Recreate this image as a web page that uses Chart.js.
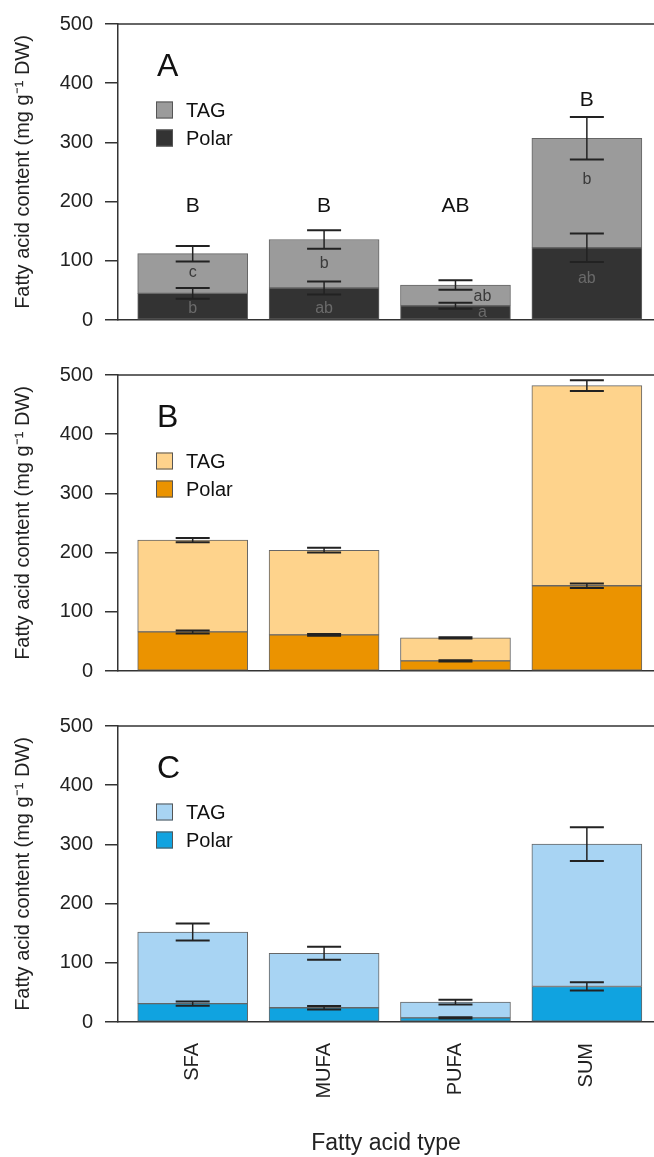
<!DOCTYPE html>
<html>
<head>
<meta charset="utf-8">
<script src="https://cdn.jsdelivr.net/npm/chart.js@4.4.0/dist/chart.umd.min.js"></script>
<style>
  html, body { margin: 0; padding: 0; background: #fff; overflow: hidden; }
  canvas { display: block; }
</style>
</head>
<body>
<canvas id="panelA" width="654" height="351"></canvas>
<canvas id="panelB" width="654" height="351"></canvas>
<canvas id="panelC" width="654" height="455"></canvas>
<script>
const categories = ['SFA', 'MUFA', 'PUFA', 'SUM'];
const yTicks = [0, 100, 200, 300, 400, 500];

// panel A (grey)
const polarA = [45, 54, 24, 122];
const tagA = [67, 82, 35, 185];
const polarErrA = [9, 11, 5, 24];
const tagErrA = [13, 15.5, 8, 36];
const groupLettersA = ['B', 'B', 'AB', 'B'];
const tagLettersA = ['c', 'b', 'ab', 'b'];
const polarLettersA = ['b', 'ab', 'a', 'ab'];

// panel B (orange)
const polarB = [66, 61, 17, 144];
const tagB = [155, 143, 39, 338];
const polarErrB = [2.5, 1.5, 1, 4];
const tagErrB = [3.5, 4, 1, 9];

// panel C (blue)
const polarC = [31, 24, 7, 60];
const tagC = [121, 92, 26.5, 240.5];
const polarErrC = [3.5, 3, 1, 7];
const tagErrC = [14.5, 11, 4, 28.5];

// where the letters of panel A sit, in data units
const groupLetterPos = [193, 193, 193, 372];
const tagLetterPos = [80, 95, 40, 238];
const polarLetterPos = [20, 20, 12, 70];
const letterShift = [0, 0, 27, 0];

const FONT = '"Liberation Sans", Arial, sans-serif';
Chart.defaults.font.family = FONT;
Chart.defaults.color = '#222';

// frame top line, error bars, letters and the small legend inside the plot
function extras(p) {
    return {
        id: 'extras' + p.letter,
        afterDatasetsDraw(chart) {
            const { ctx, chartArea: area, scales: { y } } = chart;
            ctx.save();

            ctx.strokeStyle = '#333';
            ctx.lineWidth = 1.5;
            ctx.beginPath();
            ctx.moveTo(area.left, area.top);
            ctx.lineTo(area.right, area.top);
            ctx.stroke();

            const errs = [p.polarErr, p.tagErr];
            ctx.strokeStyle = '#222';
            [0, 1].forEach(d => {
                chart.getDatasetMeta(d).data.forEach((bar, i) => {
                    const mean = d === 0 ? p.polar[i] : p.polar[i] + p.tag[i];
                    const hi = y.getPixelForValue(mean + errs[d][i]);
                    const lo = y.getPixelForValue(mean - errs[d][i]);
                    ctx.lineWidth = 1.5;
                    ctx.beginPath();
                    ctx.moveTo(bar.x, hi);
                    ctx.lineTo(bar.x, lo);
                    ctx.stroke();
                    ctx.lineWidth = 2;
                    ctx.beginPath();
                    ctx.moveTo(bar.x - 17, hi); ctx.lineTo(bar.x + 17, hi);
                    ctx.moveTo(bar.x - 17, lo); ctx.lineTo(bar.x + 17, lo);
                    ctx.stroke();
                });
            });

            ctx.textBaseline = 'middle';
            if (p.groupLetters) {
                const bars = chart.getDatasetMeta(0).data;
                ctx.textAlign = 'center';
                bars.forEach((bar, i) => {
                    ctx.fillStyle = '#111';
                    ctx.font = '21px ' + FONT;
                    ctx.fillText(p.groupLetters[i], bar.x, y.getPixelForValue(groupLetterPos[i]));
                    ctx.font = '16px ' + FONT;
                    ctx.fillStyle = '#3a3a3a';
                    ctx.fillText(p.tagLetters[i], bar.x + letterShift[i], y.getPixelForValue(tagLetterPos[i]));
                    ctx.fillStyle = '#6a6a6a';
                    ctx.fillText(p.polarLetters[i], bar.x + letterShift[i], y.getPixelForValue(polarLetterPos[i]));
                });
            }

            ctx.textAlign = 'left';
            ctx.fillStyle = '#111';
            ctx.font = '32px ' + FONT;
            ctx.fillText(p.letter, area.left + 39, area.top + 43);

            const ds = chart.data.datasets;
            [[ds[1], 86], [ds[0], 114]].forEach(([set, dy]) => {
                ctx.fillStyle = set.backgroundColor;
                ctx.fillRect(area.left + 38, area.top + dy - 8.5, 17, 17);
                ctx.strokeStyle = '#555';
                ctx.lineWidth = 1;
                ctx.strokeRect(area.left + 38.5, area.top + dy - 8, 16, 16);
                ctx.fillStyle = '#111';
                ctx.font = '20px ' + FONT;
                ctx.fillText(set.label, area.left + 68, area.top + dy + 1);
            });
            ctx.restore();
        }
    };
}

function makePanel(id, p) {
    const ctx = document.getElementById(id).getContext('2d');
    const showX = !!p.showX;
    const barStyle = { barThickness: 110, borderColor: '#666', borderWidth: 1, borderSkipped: false };
    return new Chart(ctx, {
        type: 'bar',
        data: {
            datasets: [
                Object.assign({ label: 'Polar', data: p.polar.map((v, i) => ({ x: i, y: v })), backgroundColor: p.colors[1] }, barStyle),
                Object.assign({ label: 'TAG', data: p.tag.map((v, i) => ({ x: i, y: v })), backgroundColor: p.colors[0] }, barStyle)
            ]
        },
        options: {
            responsive: false,
            animation: false,
            layout: { padding: p.padding },
            plugins: { legend: { display: false }, tooltip: { enabled: false } },
            scales: {
                x: {
                    type: 'linear',
                    offset: false,
                    stacked: true,
                    min: -0.5685,
                    max: 3.511,
                    afterBuildTicks: s => { s.ticks = categories.map((c, i) => ({ value: i })); },
                    afterFit: s => { if (showX) s.height = 135; },
                    grid: { display: false, drawTicks: false, offset: false },
                    border: { display: true, color: '#333', width: 1.5 },
                    ticks: {
                        display: showX, minRotation: 90, maxRotation: 90, padding: 21,
                        font: { size: 20 }, color: '#222',
                        callback: v => categories[v]
                    },
                    title: { display: showX, text: 'Fatty acid type', font: { size: 23 }, color: '#222', padding: 0 }
                },
                y: {
                    stacked: true,
                    min: yTicks[0],
                    max: yTicks[yTicks.length - 1],
                    afterFit: s => { s.width = 118; },
                    ticks: { stepSize: yTicks[1] - yTicks[0], padding: 12, font: { size: 20 }, color: '#222' },
                    grid: { drawOnChartArea: false, tickLength: 13, color: '#333', lineWidth: 1.5 },
                    border: { display: true, color: '#333', width: 1.5 },
                    title: {
                        display: true, text: 'Fatty acid content (mg g\u207B\u00B9 DW)',
                        font: { size: 20 }, color: '#222', padding: { top: 11, bottom: 0 }
                    }
                }
            }
        },
        plugins: [extras(p)]
    });
}

makePanel('panelA', {
    letter: 'A', polar: polarA, tag: tagA, polarErr: polarErrA, tagErr: tagErrA,
    groupLetters: groupLettersA, tagLetters: tagLettersA, polarLetters: polarLettersA,
    colors: ['#9b9b9b', '#333333'],
    padding: { top: 22, bottom: 31, left: 0, right: 0 }
});
makePanel('panelB', {
    letter: 'B', polar: polarB, tag: tagB, polarErr: polarErrB, tagErr: tagErrB,
    colors: ['#fed38c', '#eb9300'],
    padding: { top: 22, bottom: 31, left: 0, right: 0 }
});
makePanel('panelC', {
    letter: 'C', polar: polarC, tag: tagC, polarErr: polarErrC, tagErr: tagErrC,
    colors: ['#a8d4f3', '#10a3e0'],
    padding: { top: 21, bottom: 0, left: 0, right: 0 },
    showX: true
});
</script>
</body>
</html>
